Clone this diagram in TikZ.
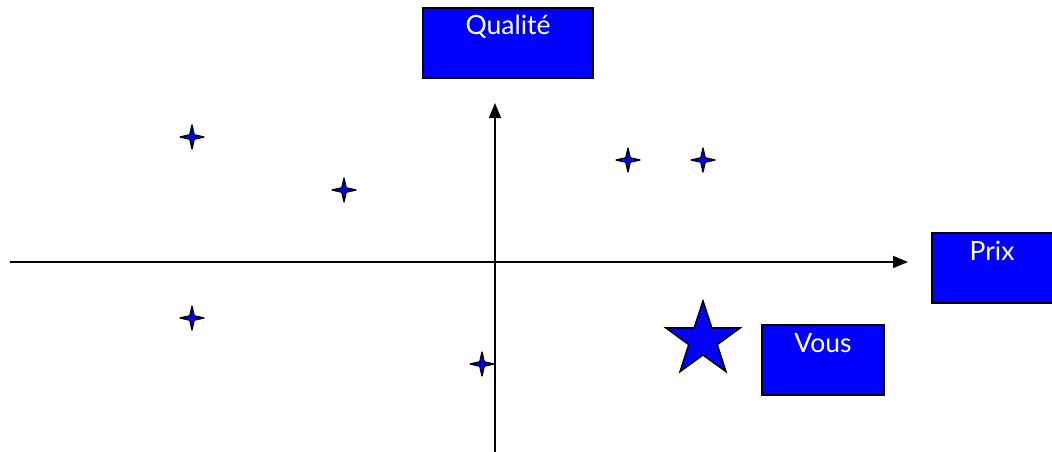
\documentclass[tikz,border=0pt]{standalone}
\usepackage{fontspec}
\setmainfont{Lato}
\usetikzlibrary{arrows.meta}
\definecolor{boxblue}{RGB}{0,0,255}
\tikzset{
  x=1pt, y=-1pt,
  labelbox/.style={draw=black, line width=2pt, fill=boxblue},
  labeltext/.style={text=white, font=\fontsize{26.5}{32}\selectfont, anchor=base, inner sep=0pt},
  axis/.style={line width=1.6pt, -{Triangle[length=15pt,width=12pt]}},
  pic4/.pic={\draw[line width=1.3pt, fill=boxblue, line join=round]
      (0,-12) -- (2.2,-2.2) -- (12,0) -- (2.2,2.2) -- (0,12) -- (-2.2,2.2) -- (-12,0) -- (-2.2,-2.2) -- cycle;}
}
\begin{document}
\begin{tikzpicture}
\useasboundingbox (0,0) rectangle (1052,452);
% axes
\coordinate (xl) at (10,262);
\coordinate (xr) at (908,262);
\coordinate (yb) at (495,452);
\coordinate (yt) at (495,103);
\draw[axis] (xl) -- (xr);
\draw[axis] (yb) -- (yt);
% boxes
\draw[labelbox] (423,8) rectangle (593,78);
\node[labeltext] (qualite) at (508,35) {Qualité};
\draw[labelbox] (932,233) rectangle (1053,303);
\node[labeltext] (prix) at (992,260) {Prix};
\draw[labelbox] (762,325) rectangle (884,395);
\node[labeltext] (vous) at (823,352) {Vous};
% small four-point stars
\coordinate (s1) at (192,137);
\coordinate (s2) at (344,190);
\coordinate (s3) at (628,160);
\coordinate (s4) at (703,160);
\coordinate (s5) at (192,318);
\coordinate (s6) at (482,364);
\foreach \s in {s1,s2,s3,s4,s5,s6} \pic at (\s) {pic4};
% big five-point star
\coordinate (bs) at (703,340);
\draw[line width=1.5pt, fill=boxblue, line join=miter, shift={(bs)}]
  (-90:39) -- (-54:15) -- (-18:39) -- (18:15) -- (54:39) -- (90:15)
  -- (126:39) -- (162:15) -- (198:39) -- (234:15) -- cycle;
\end{tikzpicture}
\end{document}
